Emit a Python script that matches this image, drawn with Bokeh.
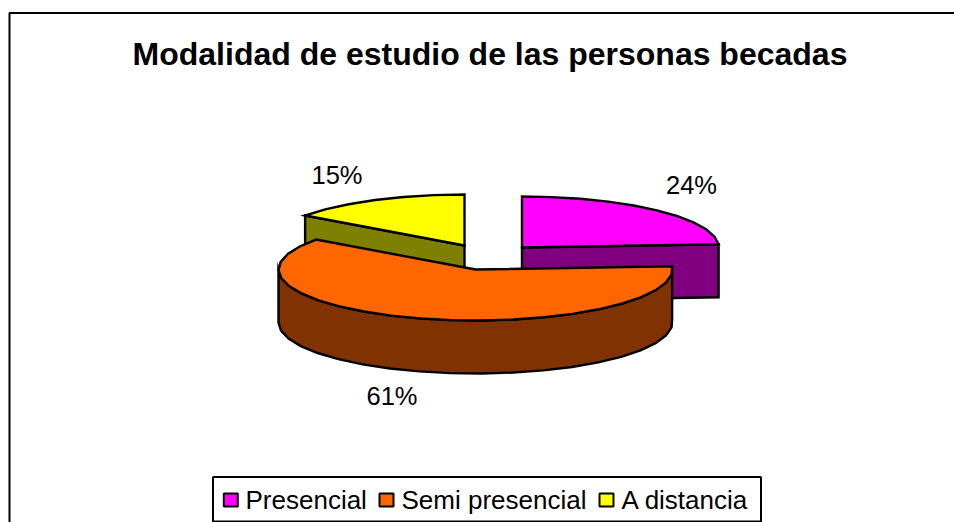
import math
from bokeh.plotting import figure
from bokeh.embed import file_html
from bokeh.resources import INLINE
from bokeh.core.properties import value

# data
title = "Modalidad de estudio de las personas becadas"
categories = ["Presencial", "Semi presencial", "A distancia"]
shares = [24, 61, 15]
top_colors = ["#FF00FF", "#FF6600", "#FFFF00"]
side_colors = ["#800080", "#803300", "#808000"]

# layout (page pixels)
W, H = 954, 522
OX, OY = 0, 0
centers = [(521.5, 247), (475, 269), (464, 245)]
label_pos = [(691, 184), (391.5, 395), (336.5, 174)]
RX, RY, DEPTH = 197, 51, 53
STEP = 9.0
FONT = "Liberation Sans"

p = figure(width=W, height=H, x_range=(OX, OX + W), y_range=(OY + H, OY),
           output_backend="svg", toolbar_location=None, min_border=0,
           outline_line_color=None, background_fill_color="white", border_fill_color="white")
p.xaxis.visible = False
p.yaxis.visible = False
p.grid.visible = False


def pt(c, a, dy=0.0):
    r = math.radians(a)
    return c[0] + RX * math.sin(r), c[1] - RY * math.cos(r) + dy


def arc(c, a0, a1, dy=0.0):
    n = max(1, int(round(abs(a1 - a0) / STEP)))
    return [pt(c, a0 + (a1 - a0) * i / n, dy) for i in range(n + 1)]


def poly(points, fill):
    p.patch([q[0] for q in points], [q[1] for q in points], fill_color=fill,
            line_color="black", line_width=2.4, line_join="miter")


# slice angles, clockwise from 12 o'clock
total = sum(shares)
angles, acc = [], 0.0
for s in shares:
    angles.append((acc * 360 / total, (acc + s) * 360 / total))
    acc += s

# frame
p.line([9, 9, OX + W], [OY + H, 12.5, 12.5], line_color="black", line_width=2)


def slice_3d(i):
    c = centers[i]
    a0, a1 = angles[i]
    # cut face at the end facing the viewer
    if i == 0:
        e = pt(c, a1)
        poly([c, e, (e[0], e[1] + DEPTH), (c[0], c[1] + DEPTH)], side_colors[i])
    if i == 2:
        e = pt(c, a0)
        poly([c, e, (e[0], e[1] + DEPTH), (c[0], c[1] + DEPTH)], side_colors[i])
    if i == 1:
        w0, w1 = a0, 270.0
        poly(arc(c, w0, w1) + arc(c, w1, w0, DEPTH), side_colors[i])
    poly([c] + arc(c, a0, a1), top_colors[i])


slice_3d(2)
slice_3d(0)
slice_3d(1)

# title and data labels
p.text([489.5], [53], text=[title], text_font=value(FONT), text_font_size=value("32px"),
       text_font_style="bold", text_align="center", text_baseline="middle", text_color="black")
p.text([q[0] for q in label_pos], [q[1] for q in label_pos],
       text=[f"{s}%" for s in shares], text_font=value(FONT), text_font_size=value("25.5px"),
       text_align="center", text_baseline="middle", text_color="black")

# legend
p.quad(left=[212.5], right=[760.5], top=[476.5], bottom=[521], fill_color="white",
       line_color="black", line_width=2)
swatch_x = [230.3, 386, 606]
text_x = [245, 401, 621]
p.rect(swatch_x, [499.5] * 3, width=[14] * 3, height=[13] * 3, fill_color=top_colors,
       line_color="black", line_width=2)
p.text(text_x, [499] * 3, text=categories, text_font=value(FONT), text_font_size=value("26px"),
       text_align="left", text_baseline="middle", text_color="black")

open("out.html", "w").write(file_html(p, INLINE))
